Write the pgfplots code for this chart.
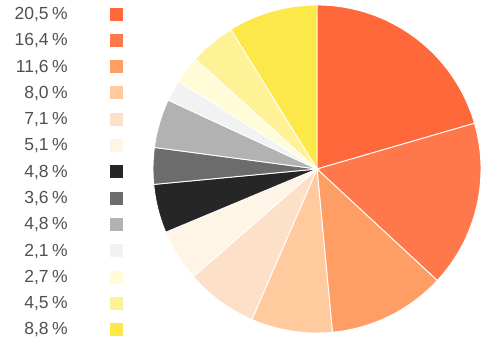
\documentclass[border=0pt]{standalone}
\usepackage{fontspec}
\setmainfont{Liberation Sans}
\usepackage{pgfplots}
\pgfplotsset{compat=1.18}
\definecolor{c1}{RGB}{255,104,58}
\definecolor{c2}{RGB}{255,120,75}
\definecolor{c3}{RGB}{255,158,100}
\definecolor{c4}{RGB}{255,202,158}
\definecolor{c5}{RGB}{252,224,200}
\definecolor{c6}{RGB}{255,245,230}
\definecolor{c7}{RGB}{38,38,38}
\definecolor{c8}{RGB}{108,108,108}
\definecolor{c9}{RGB}{178,178,178}
\definecolor{c10}{RGB}{242,242,242}
\definecolor{c11}{RGB}{255,252,215}
\definecolor{c12}{RGB}{255,241,150}
\definecolor{c13}{RGB}{253,232,74}
\definecolor{txt}{RGB}{80,80,80}
\pgfplotsset{sq/.style={legend image code/.code={\fill[##1, draw=none] (0pt,-6.5pt) rectangle (13pt,6.5pt);}}}
\begin{document}
\begin{tikzpicture}
\useasboundingbox (0,0) rectangle (485pt,341pt);
\begin{axis}[at={(317pt,172pt)}, anchor=center, scale only axis,
  width=328pt, height=328pt, xmin=-1, xmax=1, ymin=-1, ymax=1,
  hide axis, clip=false,
  legend cell align=right, legend plot pos=right,
  legend style={draw=none, fill=none, at={(axis description cs:-0.0915,0.994)},
    anchor=north east, inner sep=0pt, column sep=42pt, row sep=12.6pt,
    font=\fontsize{17.5}{19}\selectfont, text=txt, nodes={inner sep=0pt}},
]
\pgfplotsextra{%
  \gdef\pstart{90}%
  \foreach \v/\c in {20.5/c1,16.4/c2,11.6/c3,8.0/c4,7.1/c5,5.1/c6,4.8/c7,3.6/c8,4.8/c9,2.1/c10,2.7/c11,4.5/c12,8.8/c13}{%
    \pgfmathsetmacro\pend{\pstart-3.6*\v}%
    \fill[\c, draw=white, line width=0.9pt] (axis cs:0,0) -- (axis cs:{cos(\pstart)},{sin(\pstart)}) arc[start angle=\pstart, end angle=\pend, radius=164pt] -- cycle;
    \global\let\pstart\pend
  }%
}
\addlegendimage{sq, fill=c1}\addlegendentry{20,5\hspace{0.2em}\%}
\addlegendimage{sq, fill=c2}\addlegendentry{16,4\hspace{0.2em}\%}
\addlegendimage{sq, fill=c3}\addlegendentry{11,6\hspace{0.2em}\%}
\addlegendimage{sq, fill=c4}\addlegendentry{8,0\hspace{0.2em}\%}
\addlegendimage{sq, fill=c5}\addlegendentry{7,1\hspace{0.2em}\%}
\addlegendimage{sq, fill=c6}\addlegendentry{5,1\hspace{0.2em}\%}
\addlegendimage{sq, fill=c7}\addlegendentry{4,8\hspace{0.2em}\%}
\addlegendimage{sq, fill=c8}\addlegendentry{3,6\hspace{0.2em}\%}
\addlegendimage{sq, fill=c9}\addlegendentry{4,8\hspace{0.2em}\%}
\addlegendimage{sq, fill=c10}\addlegendentry{2,1\hspace{0.2em}\%}
\addlegendimage{sq, fill=c11}\addlegendentry{2,7\hspace{0.2em}\%}
\addlegendimage{sq, fill=c12}\addlegendentry{4,5\hspace{0.2em}\%}
\addlegendimage{sq, fill=c13}\addlegendentry{8,8\hspace{0.2em}\%}
\end{axis}
\end{tikzpicture}
\end{document}
